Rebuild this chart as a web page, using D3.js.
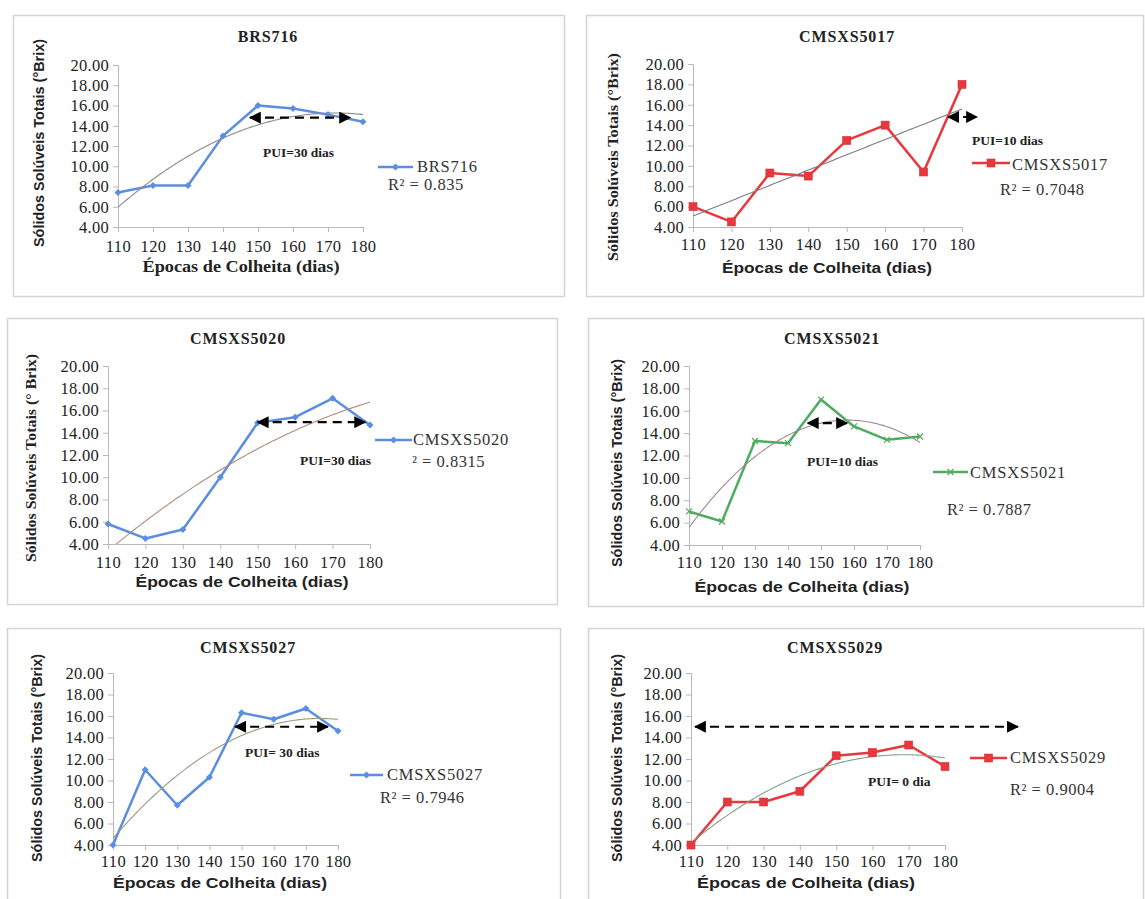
<!DOCTYPE html>
<html>
<head>
<meta charset="utf-8">
<script src="https://cdn.jsdelivr.net/npm/d3@7/dist/d3.min.js"></script>
<style>
  html, body { margin: 0; padding: 0; background: #ffffff; }
  svg { display: block; }
</style>
</head>
<body>
<svg id="chart" width="1145" height="899"></svg>
<script>
// ---------------- DATA ----------------
const days = [110, 120, 130, 140, 150, 160, 170, 180];
const yTicks = [4, 6, 8, 10, 12, 14, 16, 18, 20];
const cultivars = ["BRS716", "CMSXS5017", "CMSXS5020", "CMSXS5021", "CMSXS5027", "CMSXS5029"];
const brs716    = [7.4, 8.1, 8.1, 13.0, 16.0, 15.7, 15.1, 14.4];
const cmsxs5017 = [6.0, 4.5, 9.3, 9.0, 12.5, 14.0, 9.4, 18.0];
const cmsxs5020 = [5.8, 4.5, 5.3, 10.0, 14.9, 15.4, 17.1, 14.7];
const cmsxs5021 = [7.0, 6.1, 13.3, 13.1, 17.0, 14.6, 13.4, 13.7];
const cmsxs5027 = [4.0, 11.0, 7.7, 10.3, 16.3, 15.7, 16.7, 14.6];
const cmsxs5029 = [4.0, 8.0, 8.0, 9.0, 12.3, 12.6, 13.3, 11.3];
const seriesValues = [brs716, cmsxs5017, cmsxs5020, cmsxs5021, cmsxs5027, cmsxs5029];
const trendOrder = [2, 1, 2, 2, 2, 2];
const r2Labels = ["R² = 0.835", "R² = 0.7048", "² = 0.8315", "R² = 0.7887", "R² = 0.7946", "R² = 0.9004"];
const puiLabels = ["PUI=30 dias", "PUI=10 dias", "PUI=30 dias", "PUI=10 dias", "PUI= 30 dias", "PUI= 0 dia"];
const arrowStart = [147.7, 176.4, 150.0, 146.0, 148.0, 111.1];
const arrowEnd   = [176.3, 183.9, 178.7, 157.9, 176.9, 200.1];
const arrowLevel = [14.8, 14.8, 14.95, 14.9, 15.0, 15.0];
const yLabels = ["Sólidos Solúveis Totais (°Brix)", "Sólidos Solúveis Totais (°Brix)", "Sólidos Solúveis Totais (° Brix)",
                 "Sólidos Solúveis Totais (°Brix)", "Sólidos Solúveis Totais (°Brix)", "Sólidos Solúveis Totais (°Brix)"];
const xLabel = "Épocas de Colheita (dias)";

// ---------------- LAYOUT / STYLE ----------------
const layout = [
  { box:[13,15,564,296], plot:[118,363,65,227], title:[268,42], ylab:[40,143], xlab:[241,272], tickY:252,
    leg:[378,413,167], legText:[417,172], r2:[388,190], pui:[263,157], color:"#5b8ee0", marker:"diamond", trend:"#8f8a86",
    ylabFont:"'Liberation Sans Narrow', 'Liberation Sans', sans-serif", xlabFont:"'Liberation Serif', serif", xlabSize:16.5, xlabLen:197 },
  { box:[586,15,1143,296], plot:[693,962,64,227], title:[847,42], ylab:[615,157], xlab:[827,273], tickY:250,
    leg:[972,1010,163], legText:[1012,170], r2:[1000,195], pui:[972,145], color:"#e8383d", marker:"square", trend:"#7a7f80",
    ylabFont:"'Liberation Serif', serif", xlabFont:"'Liberation Sans', Arial, sans-serif", xlabSize:15.5, xlabLen:210 },
  { box:[7,318,557,604], plot:[108,370,366,544], title:[238,344], ylab:[33,458], xlab:[242,587], tickY:568,
    leg:[375,412,440], legText:[413,445], r2:[412,467], pui:[300,465], color:"#5b8ee0", marker:"diamond", trend:"#b48a7a",
    ylabFont:"'Liberation Serif', serif", xlabFont:"'Liberation Sans', Arial, sans-serif", xlabSize:15.5, xlabLen:213 },
  { box:[588,318,1143,606], plot:[689,920,366,545], title:[832,344], ylab:[618,463], xlab:[802,592], tickY:568,
    leg:[933,968,472], legText:[970,478], r2:[947,515], pui:[807,466], color:"#4fac5f", marker:"x", trend:"#a08890",
    ylabFont:"'Liberation Sans', Arial, sans-serif", xlabFont:"'Liberation Sans', Arial, sans-serif", xlabSize:15.5, xlabLen:215 },
  { box:[7,628,560,905], plot:[113,338,673,845], title:[248,653], ylab:[38,758], xlab:[220,888], tickY:867,
    leg:[350,383,775], legText:[387,780], r2:[380,803], pui:[245,757], color:"#5b8ee0", marker:"diamond", trend:"#9a9a80",
    ylabFont:"'Liberation Sans', Arial, sans-serif", xlabFont:"'Liberation Sans', Arial, sans-serif", xlabSize:15.5, xlabLen:214 },
  { box:[588,628,1143,905], plot:[691,945,673,845], title:[835,653], ylab:[618,758], xlab:[806,888], tickY:867,
    leg:[970,1007,758], legText:[1010,763], r2:[1010,795], pui:[868,786], color:"#e8383d", marker:"square", trend:"#7fa08a",
    ylabFont:"'Liberation Sans', Arial, sans-serif", xlabFont:"'Liberation Sans', Arial, sans-serif", xlabSize:15.5, xlabLen:218 }
];

const svg = d3.select("#chart");
const defs = svg.append("defs");
defs.append("marker").attr("id","arrowEndM").attr("viewBox","0 0 10 10").attr("refX",9).attr("refY",5)
  .attr("markerWidth",5.5).attr("markerHeight",5.5).attr("orient","auto")
  .append("path").attr("d","M0,0 L10,5 L0,10 Z").attr("fill","#000");
defs.append("marker").attr("id","arrowStartM").attr("viewBox","0 0 10 10").attr("refX",1).attr("refY",5)
  .attr("markerWidth",5.5).attr("markerHeight",5.5).attr("orient","auto")
  .append("path").attr("d","M10,0 L0,5 L10,10 Z").attr("fill","#000");

// least-squares polynomial fit (order 1 or 2) computed from the data
function polyFit(xs, ys, order) {
  const n = order + 1;
  const A = Array.from({length:n}, () => new Array(n).fill(0));
  const b = new Array(n).fill(0);
  xs.forEach((x, i) => {
    const t = x - 145;
    for (let r = 0; r < n; r++) {
      b[r] += ys[i] * Math.pow(t, r);
      for (let c = 0; c < n; c++) A[r][c] += Math.pow(t, r + c);
    }
  });
  for (let i = 0; i < n; i++) {
    for (let k = i + 1; k < n; k++) {
      const f = A[k][i] / A[i][i];
      for (let c = i; c < n; c++) A[k][c] -= f * A[i][c];
      b[k] -= f * b[i];
    }
  }
  const coef = new Array(n).fill(0);
  for (let i = n - 1; i >= 0; i--) {
    let s = b[i];
    for (let c = i + 1; c < n; c++) s -= A[i][c] * coef[c];
    coef[i] = s / A[i][i];
  }
  return x => coef.reduce((acc, a, p) => acc + a * Math.pow(x - 145, p), 0);
}

function drawMarker(g, type, x, y, color, size) {
  if (type === "square") {
    g.append("rect").attr("x", x - size/2).attr("y", y - size/2).attr("width", size).attr("height", size)
      .attr("fill", color).attr("stroke", d3.color(color).darker(0.3)).attr("stroke-width", 0.6);
  } else if (type === "diamond") {
    const s = size/2;
    g.append("path").attr("d", `M${x},${y-s} L${x+s},${y} L${x},${y+s} L${x-s},${y} Z`).attr("fill", color);
  } else {
    const s = size/2;
    g.append("path").attr("d", `M${x-s},${y-s} L${x+s},${y+s} M${x-s},${y+s} L${x+s},${y-s}`)
      .attr("stroke", color).attr("stroke-width", 1.2);
  }
}

layout.forEach((L, i) => {
  const vals = seriesValues[i];
  const g = svg.append("g");
  const [bx0, by0, bx1, by1] = L.box;
  g.append("rect").attr("x", bx0 + 0.5).attr("y", by0 + 0.5).attr("width", bx1 - bx0).attr("height", by1 - by0)
    .attr("fill", "#fff").attr("stroke", "#d4d4d4").attr("stroke-width", 1.5);

  const [px0, px1, py0, py1] = L.plot;
  const x = d3.scaleLinear().domain([110, 180]).range([px0, px1]);
  const y = d3.scaleLinear().domain([4, 20]).range([py1, py0]);

  // y axis
  const yAxis = g.append("g").attr("transform", `translate(${px0},0)`)
    .call(d3.axisLeft(y).tickValues(yTicks).tickFormat(d3.format(".2f")).tickSize(5).tickPadding(4));
  yAxis.select(".domain").attr("stroke", "#b8b8b8");
  yAxis.selectAll(".tick line").attr("stroke", "#b8b8b8");
  yAxis.selectAll("text").attr("font-family", "'Liberation Serif', serif").attr("font-size", 16.5)
    .attr("letter-spacing", 0.3).attr("fill", "#222");

  // x axis
  const xAxis = g.append("g").attr("transform", `translate(0,${py1})`)
    .call(d3.axisBottom(x).tickValues(days).tickFormat(d3.format("d")).tickSize(5).tickSizeOuter(0));
  xAxis.select(".domain").attr("stroke", "#b8b8b8");
  xAxis.selectAll(".tick line").attr("stroke", "#b8b8b8");
  xAxis.selectAll("text").attr("font-family", "'Liberation Serif', serif").attr("font-size", 16.5)
    .attr("letter-spacing", 0.4).attr("fill", "#222")
    .attr("dy", null).attr("y", L.tickY - py1);

  // title
  g.append("text").attr("x", L.title[0]).attr("y", L.title[1]).attr("text-anchor", "middle")
    .attr("font-family", "'Liberation Serif', serif").attr("font-weight", "bold").attr("font-size", 16)
    .attr("letter-spacing", 0.9).attr("fill", "#222").text(cultivars[i]);

  // axis titles
  g.append("text").attr("transform", `translate(${L.ylab[0]},${L.ylab[1]}) rotate(-90)`)
    .attr("text-anchor", "middle").attr("dominant-baseline", "middle")
    .attr("font-family", L.ylabFont).attr("font-weight", "bold").attr("font-size", 14.5)
    .attr("textLength", 208).attr("lengthAdjust", "spacingAndGlyphs").attr("fill", "#222").text(yLabels[i]);
  g.append("text").attr("x", L.xlab[0]).attr("y", L.xlab[1]).attr("text-anchor", "middle")
    .attr("font-family", L.xlabFont).attr("font-weight", "bold").attr("font-size", L.xlabSize)
    .attr("textLength", L.xlabLen).attr("lengthAdjust", "spacingAndGlyphs")
    .attr("fill", "#222").text(xLabel);

  // clip for trend
  const clipId = "clip" + i;
  defs.append("clipPath").attr("id", clipId).append("rect")
    .attr("x", px0).attr("y", py0 - 2).attr("width", px1 - px0 + 2).attr("height", py1 - py0 + 2);

  // series line
  const pts = days.map((d, k) => [d, vals[k]]);
  const line = d3.line().x(d => x(d[0])).y(d => y(d[1]));
  g.append("path").datum(pts).attr("d", line).attr("fill", "none").attr("stroke", L.color)
    .attr("stroke-width", 2.5).attr("stroke-linejoin", "round");

  // trend line
  const f = polyFit(days, vals, trendOrder[i]);
  const tx = d3.range(110, 180.01, 0.5);
  g.append("path").datum(tx.map(d => [d, f(d)])).attr("d", line).attr("fill", "none")
    .attr("stroke", L.trend).attr("stroke-width", 1.1).attr("clip-path", `url(#${clipId})`);

  // markers
  const msize = L.marker === "square" ? 8 : (L.marker === "diamond" ? 7 : 6);
  pts.forEach(p => drawMarker(g, L.marker, x(p[0]), y(p[1]), L.color, msize));

  // PUI arrow
  g.append("line").attr("x1", x(arrowStart[i])).attr("x2", x(arrowEnd[i]))
    .attr("y1", y(arrowLevel[i])).attr("y2", y(arrowLevel[i]))
    .attr("stroke", "#000").attr("stroke-width", 2.2).attr("stroke-dasharray", "9,6")
    .attr("marker-start", "url(#arrowStartM)").attr("marker-end", "url(#arrowEndM)");
  g.append("text").attr("x", L.pui[0]).attr("y", L.pui[1])
    .attr("font-family", "'Liberation Serif', serif").attr("font-weight", "bold").attr("font-size", 13.5)
    .attr("fill", "#222").text(puiLabels[i]);

  // legend
  g.append("line").attr("x1", L.leg[0]).attr("x2", L.leg[1]).attr("y1", L.leg[2]).attr("y2", L.leg[2])
    .attr("stroke", L.color).attr("stroke-width", 2.5);
  drawMarker(g, L.marker, (L.leg[0] + L.leg[1]) / 2, L.leg[2], L.color, msize);
  g.append("text").attr("x", L.legText[0]).attr("y", L.legText[1])
    .attr("font-family", "'Liberation Serif', serif").attr("font-size", 16.5).attr("letter-spacing", 0.8)
    .attr("fill", "#333").text(cultivars[i]);
  g.append("text").attr("x", L.r2[0]).attr("y", L.r2[1])
    .attr("font-family", "'Liberation Serif', serif").attr("font-size", 16.5).attr("letter-spacing", 0.5)
    .attr("fill", "#333").text(r2Labels[i]);
});
</script>
</body>
</html>
